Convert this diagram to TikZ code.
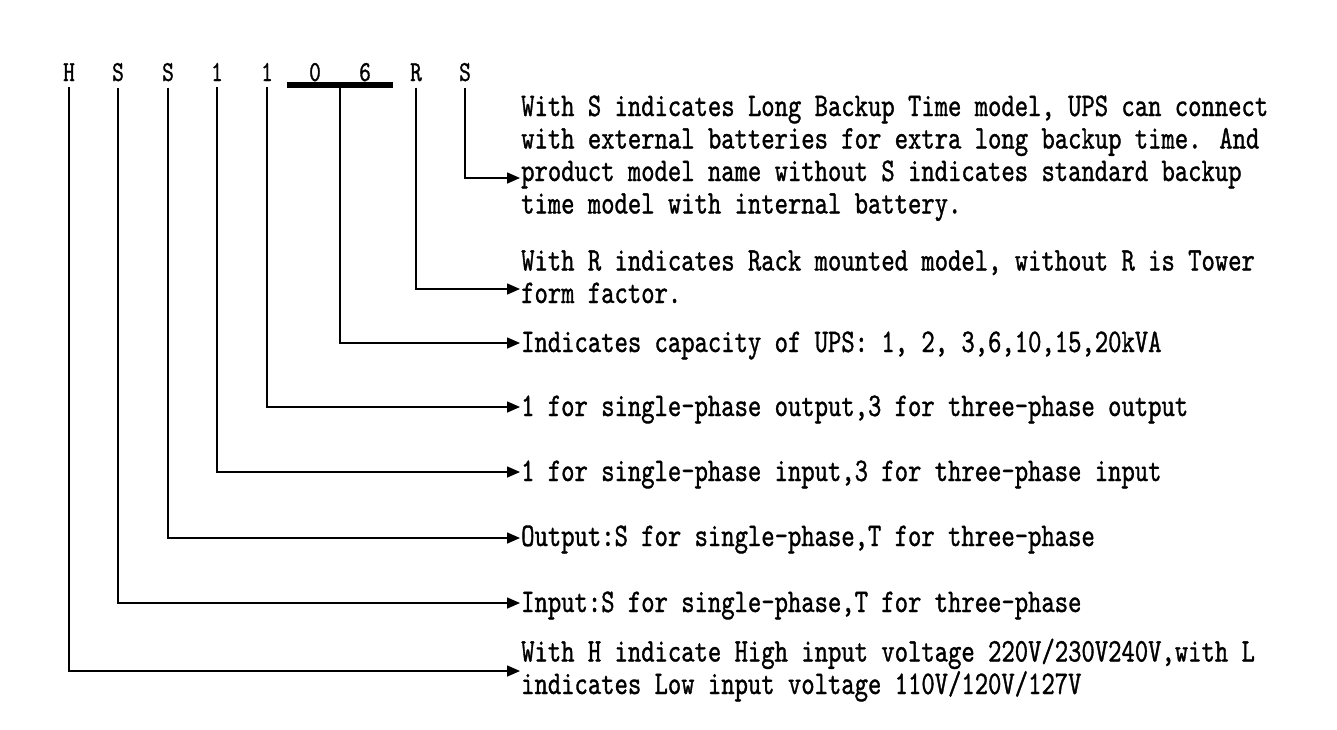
\documentclass[tikz,border=0pt]{standalone}
\usepackage{fontspec}
\newfontfamily\codefont{lmmono10-regular.otf}[FakeStretch=0.77,FakeBold=1.0]
\usetikzlibrary{arrows.meta}
\begin{document}
\begin{tikzpicture}[x=1pt,y=-1pt,
  letter/.style={font=\codefont\fontsize{29}{29}\selectfont, inner sep=0pt, anchor=base},
  desc/.style={font=\codefont\fontsize{33}{32.5}\selectfont, inner sep=0pt, anchor=base west, align=left},
  conn/.style={line width=1.6pt, -{Triangle[length=13pt,width=11pt]}},
  barstyle/.style={fill=black, inner sep=0pt, minimum width=106pt, minimum height=6pt}]
\useasboundingbox[fill=white] (0,0) rectangle (1337,729);

% model letters
\node[letter] (cH)  at (69,81)  {H};
\node[letter] (cS1) at (118,81) {S};
\node[letter] (cS2) at (168,81) {S};
\node[letter] (c1a) at (217,81) {1};
\node[letter] (c1b) at (267,81) {1};
\node[letter] (c0)  at (315,81) {0};
\node[letter] (c6)  at (365,81) {6};
\node[letter] (cR)  at (416,81) {R};
\node[letter] (cS3) at (465,81) {S};
\node[barstyle] (bar) at (340,85) {};

% descriptions (base anchor = baseline of the last line)
\node[desc] (tS3) at (521,213.5) {With S indicates Long Backup Time model, UPS can connect\\with external batteries for extra long backup time. And\\product model name without S indicates standard backup\\time model with internal battery.};
\node[desc] (tR) at (521,303) {With R indicates Rack mounted model, without R is Tower\\form factor.};
\node[desc] (t06) at (521,352) {Indicates capacity of UPS: 1, 2, 3,6,10,15,20kVA};
\node[desc] (t1b) at (521,416) {1 for single-phase output,3 for three-phase output};
\node[desc] (t1a) at (521,481) {1 for single-phase input,3 for three-phase input};
\node[desc] (tS2) at (521,546) {Output:S for single-phase,T for three-phase};
\node[desc] (tS1) at (521,612) {Input:S for single-phase,T for three-phase};
\node[desc] (tH) at (521,694) {With H indicate High input voltage 220V/230V240V,with L\\indicates Low input voltage 110V/120V/127V};

% arrow ends
\coordinate (eS3) at (520,178);
\coordinate (eR)  at (520,289);
\coordinate (e06) at (520,343);
\coordinate (e1b) at (520,407);
\coordinate (e1a) at (520,472);
\coordinate (eS2) at (520,538);
\coordinate (eS1) at (520,603);
\coordinate (eH)  at (520,671);

% connectors
\draw[conn] ([yshift=-6pt]cS3.south) |- (eS3);
\draw[conn] ([yshift=-6pt]cR.south) |- (eR);
\draw[conn] (bar.south) |- (e06);
\draw[conn] ([yshift=-6pt]c1b.south) |- (e1b);
\draw[conn] ([yshift=-6pt]c1a.south) |- (e1a);
\draw[conn] ([yshift=-6pt]cS2.south) |- (eS2);
\draw[conn] ([yshift=-6pt]cS1.south) |- (eS1);
\draw[conn] ([yshift=-6pt]cH.south) |- (eH);
\end{tikzpicture}
\end{document}
